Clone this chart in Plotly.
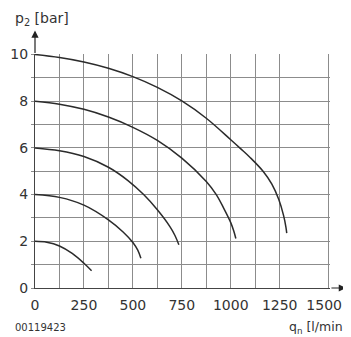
import plotly.graph_objects as go

# flow curves q_n [l/min] vs p2 [bar], one per inlet pressure
q_p10 = [0, 125, 250, 375, 500, 625, 750, 875, 1000, 1050, 1100, 1165, 1210, 1245, 1270, 1282, 1286]
p_p10 = [10, 9.87, 9.68, 9.41, 9.05, 8.59, 8.01, 7.27, 6.35, 5.97, 5.58, 5.0, 4.45, 3.8, 3.1, 2.6, 2.35]

q_p8 = [0, 125, 250, 375, 500, 625, 750, 875, 926, 965, 1000, 1015, 1026]
p_p8 = [8, 7.87, 7.65, 7.32, 6.88, 6.32, 5.56, 4.56, 4.0, 3.4, 2.8, 2.45, 2.12]

q_p6 = [0, 125, 250, 375, 475, 555, 625, 690, 715, 735]
p_p6 = [6, 5.88, 5.63, 5.17, 4.6, 4.0, 3.35, 2.62, 2.25, 1.85]

q_p4 = [0, 125, 250, 375, 450, 500, 525, 541]
p_p4 = [4, 3.88, 3.55, 2.92, 2.4, 1.95, 1.62, 1.27]

q_p2 = [0, 60, 125, 190, 250, 289]
p_p2 = [2, 1.96, 1.8, 1.48, 1.06, 0.74]

x_grid = [0, 125, 250, 375, 500, 625, 750, 875, 1000, 1125, 1250, 1500]
x_labels = ['0', '', '250', '', '500', '', '750', '', '1000', '', '1250', '1500\u00a0\u00a0']
y_grid = list(range(0, 11))
y_labels = ['0', '', '2', '', '4', '', '6', '', '8', '', '10']

FONT = 'DejaVu Sans'
TXT = '#333333'

fig = go.Figure()
for q, p in [(q_p10, p_p10), (q_p8, p_p8), (q_p6, p_p6), (q_p4, p_p4), (q_p2, p_p2)]:
    fig.add_trace(go.Scatter(
        x=q, y=p, mode='lines',
        line=dict(color='#2b2b2b', width=1.5, shape='spline', smoothing=1.0),
        showlegend=False, hoverinfo='skip'
    ))

# the page body adds an 8px offset, so the figure is 8px smaller than the window
fig.update_layout(
    width=343, height=329,
    margin=dict(l=27, r=21, t=46, b=49, autoexpand=False),
    paper_bgcolor='white', plot_bgcolor='white',
    font=dict(family=FONT, size=14, color=TXT),
    xaxis=dict(
        range=[0, 1507], tickmode='array', tickvals=x_grid, ticktext=x_labels,
        showgrid=True, gridcolor='#8c8c8c', gridwidth=1, automargin=False,
        zeroline=False, showline=True, linecolor='#444444', linewidth=1.2,
        ticks='', ticklabelstandoff=4, ticklabeloverflow='allow', fixedrange=True
    ),
    yaxis=dict(
        range=[0, 10.02], tickmode='array', tickvals=y_grid, ticktext=y_labels,
        showgrid=True, gridcolor='#8c8c8c', gridwidth=1, automargin=False,
        zeroline=False, showline=True, linecolor='#444444', linewidth=1.2,
        ticks='outside', ticklen=3, tickcolor='#8c8c8c', fixedrange=True
    ),
)

# axis arrows (paper coords so they are drawn outside the plot range)
fig.add_annotation(x=0, y=1.1, xref='paper', yref='paper', ax=0, ay=24,
                   text='', showarrow=True, arrowhead=2, arrowsize=1.2,
                   arrowwidth=1.2, arrowcolor='#222222', standoff=0)
fig.add_annotation(x=1.054, y=0, xref='paper', yref='paper', ax=-16, ay=0,
                   text='', showarrow=True, arrowhead=2, arrowsize=1.2,
                   arrowwidth=1.2, arrowcolor='#222222', standoff=0)

# axis titles and drawing number
fig.add_annotation(text='p<sub>2</sub> [bar]', xref='paper', yref='paper',
                   x=-0.075, y=1.15, xanchor='left', yanchor='middle',
                   showarrow=False, font=dict(size=14, color=TXT))
fig.add_annotation(text='q<sub>n</sub> [l/min]', xref='paper', yref='paper',
                   x=0.854, y=-0.17, xanchor='left', yanchor='middle',
                   showarrow=False, font=dict(size=12.5, color=TXT))
fig.add_annotation(text='00119423', xref='paper', yref='paper',
                   x=-0.075, y=-0.167, xanchor='left', yanchor='middle',
                   showarrow=False, font=dict(size=10, color=TXT))

fig.write_html("out.html")
